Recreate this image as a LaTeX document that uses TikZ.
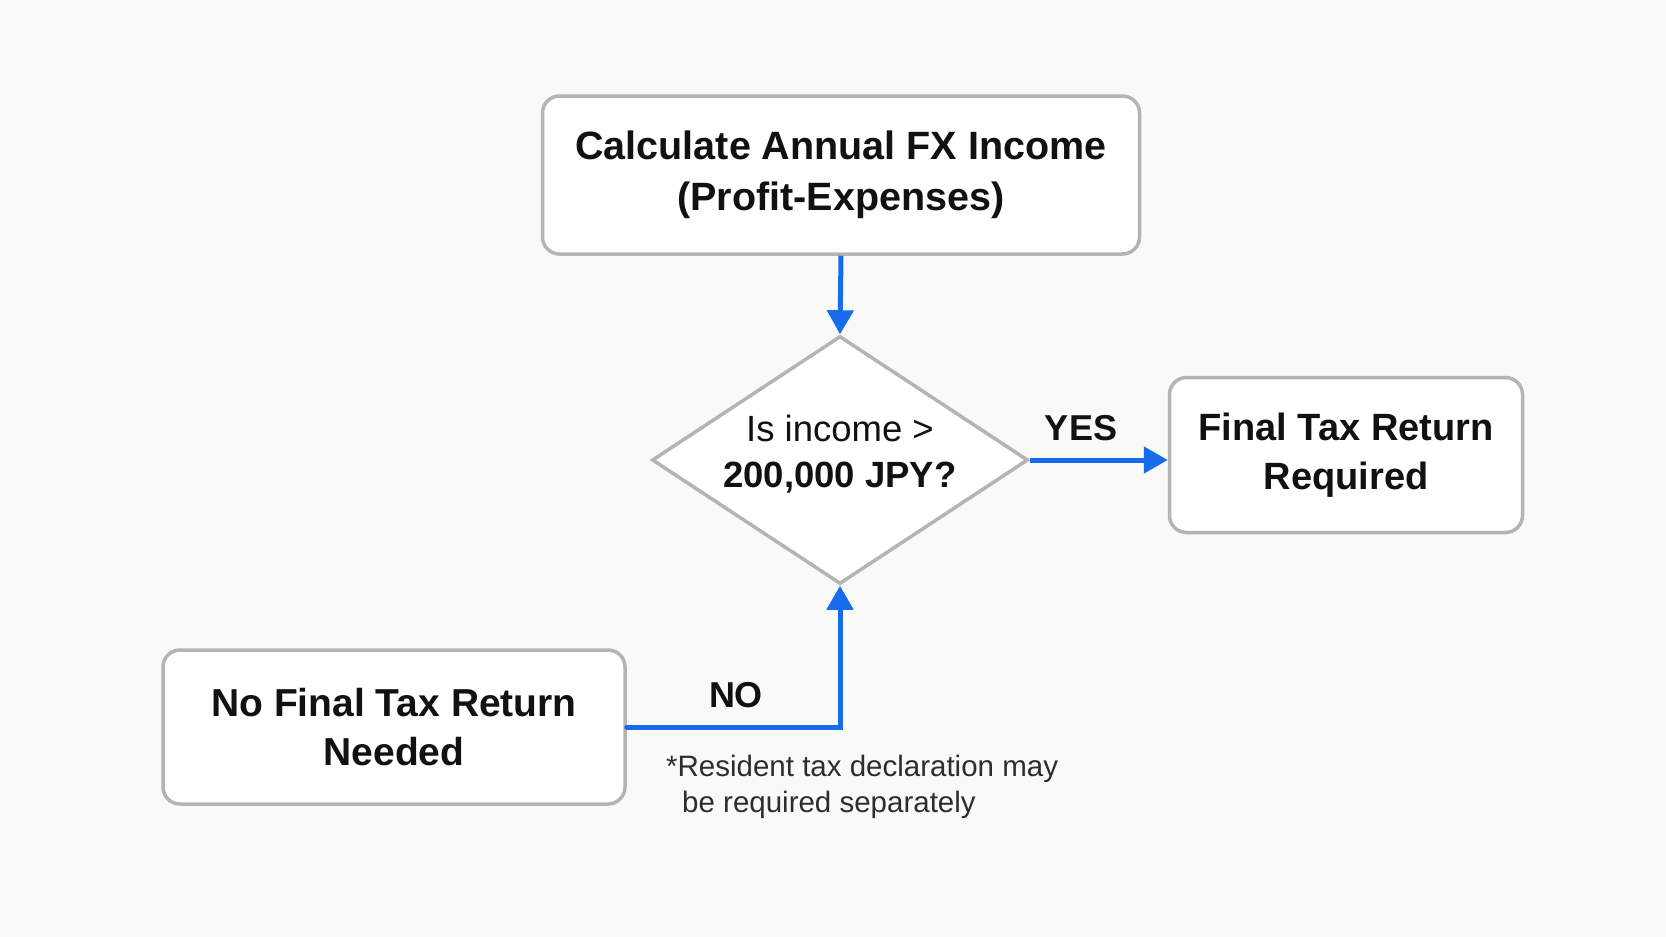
\documentclass[tikz,border=0pt]{standalone}
\usepackage{fontspec}
\setmainfont{Liberation Sans}
\usetikzlibrary{shapes.geometric,arrows.meta}
\definecolor{bgc}{RGB}{249,249,247}
\definecolor{boxline}{RGB}{180,180,180}
\definecolor{flow}{RGB}{22,108,236}
\definecolor{txt}{RGB}{17,17,17}
\definecolor{note}{RGB}{45,45,45}
\tikzset{
  stepbox/.style={draw=boxline, line width=3.5pt, fill=white, rounded corners=17pt,
    align=center, text=txt, inner sep=0pt,
    font=\bfseries\fontsize{38}{49}\selectfont},
  decbox/.style={draw=boxline, line width=3.5pt, fill=white, shape=diamond,
    shape aspect=1.516, inner sep=0pt, align=center, text=txt,
    minimum width=376pt, minimum height=248pt},
  flowarrow/.style={draw=flow, line width=5pt,
    -{Triangle[length=24pt,width=26pt]}},
  flowlabel/.style={text=txt, font=\bfseries\fontsize{36}{44}\selectfont, inner sep=0pt},
}
\begin{document}
\begin{tikzpicture}[x=1pt,y=-1pt]
\useasboundingbox (0,0) rectangle (1666,937);
\fill[bgc] (0,0) rectangle (1666,937);

\node[stepbox, minimum width=597pt, minimum height=158pt,
  font=\bfseries\fontsize{39.5}{51}\selectfont] (calc) at (841,175)
  {Calculate Annual FX Income\\(Profit-Expenses)};
\node[decbox] (dec) at (840,460) {};
\node[text=txt, align=center, inner sep=0pt, font=\fontsize{36.5}{46}\selectfont] (dectext) at (840,454)
  {Is income >\\\textbf{200,000 JPY?}};

\node[stepbox, minimum width=353pt, minimum height=155pt] (req) at (1346,455)
  {Final Tax Return\\Required};

\node[stepbox, minimum width=462pt, minimum height=154pt,
  font=\bfseries\fontsize{39}{49}\selectfont] (noreq) at (394,727)
  {No Final Tax Return\\Needed};

\draw[flowarrow] (calc.south) -- (dec.north);
\draw[flowarrow] (dec.east) -- (dec.east -| req.west);
\draw[flowarrow, line cap=round] (noreq.east) -| (dec.south);

\node[flowlabel] (yes) at (1081,428) {YES};
\node[flowlabel] (no) at (736,695) {NO};

\node[text=note, align=left, anchor=west, inner sep=0pt,
  font=\fontsize{29.5}{36}\selectfont] (fn) at (666,787)
  {*Resident tax declaration may\\\hspace*{16pt}be required separately};
\end{tikzpicture}
\end{document}
